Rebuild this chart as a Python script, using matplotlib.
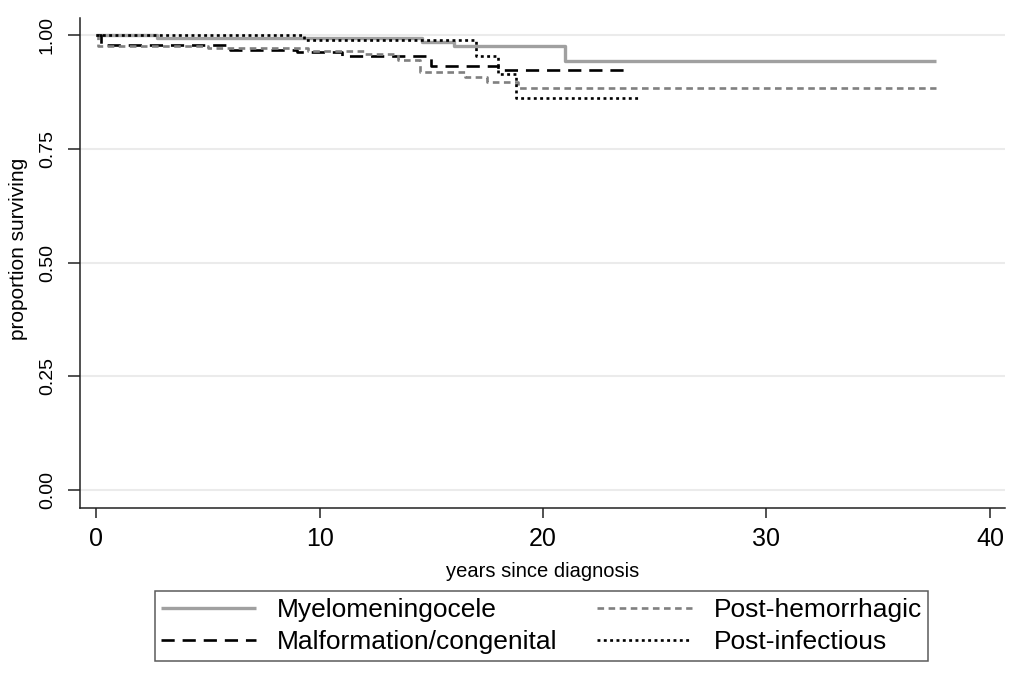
import numpy as np
import matplotlib.pyplot as plt

plt.rcParams['font.family'] = ['Liberation Sans', 'DejaVu Sans']

# Kaplan-Meier step data (years, proportion surviving)
myelo_t = [0, 2.7, 14.6, 16.0, 21.0, 37.6]
myelo_s = [1.0, 0.993, 0.985, 0.975, 0.943, 0.943]

malf_t = [0, 0.2, 6.0, 9.0, 11.0, 15.0, 18.0, 23.8]
malf_s = [1.0, 0.978, 0.968, 0.963, 0.953, 0.932, 0.923, 0.923]

hemo_t = [0, 0.1, 5.0, 9.5, 12.0, 13.5, 14.5, 16.5, 17.5, 18.9, 37.6]
hemo_s = [1.0, 0.977, 0.972, 0.966, 0.958, 0.945, 0.920, 0.908, 0.897, 0.884, 0.884]

infect_t = [0, 9.3, 17.0, 18.0, 18.8, 24.4]
infect_s = [1.0, 0.989, 0.955, 0.915, 0.862, 0.862]

labels = ["Myelomeningocele", "Malformation/congenital", "Post-hemorrhagic", "Post-infectious"]
xticks = [0, 10, 20, 30, 40]
yticks = [0.0, 0.25, 0.5, 0.75, 1.0]

fig = plt.figure(figsize=(10.14, 6.77), dpi=100)
ax = fig.add_axes([0.079, 0.2496, 0.912, 0.7234])

for y in yticks:
    ax.axhline(y, color="#ebebeb", lw=1.5, zorder=0)

l1, = ax.step(myelo_t, myelo_s, where="post", color="#a0a0a0", lw=2.4, solid_capstyle="butt")
l2, = ax.step(malf_t, malf_s, where="post", color="black", lw=1.9, linestyle=(0, (5.0, 3.0)))
l3, = ax.step(hemo_t, hemo_s, where="post", color="#808080", lw=1.9, linestyle=(0, (2.5, 1.7)))
l4, = ax.step(infect_t, infect_s, where="post", color="black", lw=1.9, linestyle=(0, (1.1, 1.3)))

ax.set_xlim(-0.72, 40.67)
ax.set_ylim(-0.0396, 1.037)
ax.set_xticks(xticks)
ax.set_xticklabels([str(t) for t in xticks], fontsize=18)
ax.set_yticks(yticks)
ax.set_yticklabels(["%.2f" % t for t in yticks], fontsize=14, rotation=90, va="center")

for s in ["top", "right"]:
    ax.spines[s].set_visible(False)
for s in ["left", "bottom"]:
    ax.spines[s].set_linewidth(1.1)
    ax.spines[s].set_color("#222222")
ax.tick_params(axis="x", length=7.5, width=1.1, pad=6, color="#222222")
ax.tick_params(axis="y", length=8.5, width=1.1, pad=9, color="#222222")

ax.set_xlabel("years since diagnosis", fontsize=14.5)
ax.set_ylabel("proportion surviving", fontsize=15)
ax.xaxis.set_label_coords(0.50, -0.11)
ax.yaxis.set_label_coords(-0.056, 0.53)

leg = fig.legend([l1, l2, l3, l4], labels,
                 ncol=2, loc="center", bbox_to_anchor=(0.534, 0.0753),
                 fontsize=19, frameon=True, fancybox=False,
                 handlelength=3.6, handletextpad=0.8, columnspacing=1.5,
                 borderpad=0.25, labelspacing=0.3)
leg.get_frame().set_edgecolor("#333333")
leg.get_frame().set_linewidth(1.1)

fig.savefig("out.png", dpi=100, facecolor="white")
